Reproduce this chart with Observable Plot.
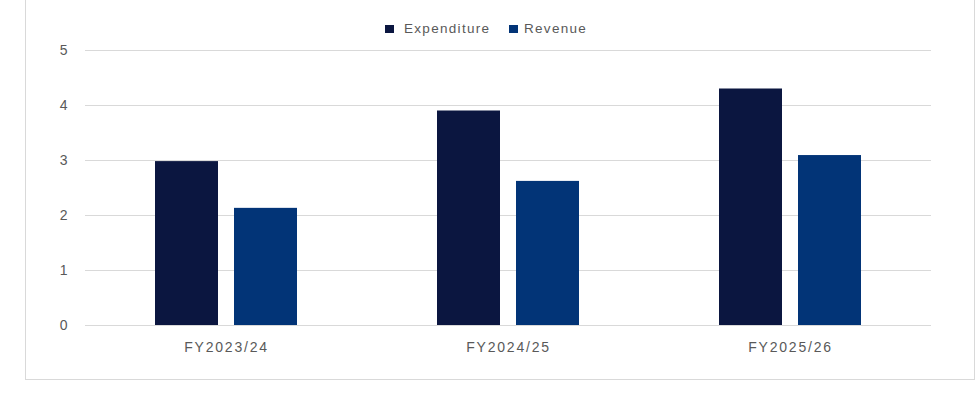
<!DOCTYPE html>
<html>
<head>
<meta charset="utf-8">
<script src="https://cdn.jsdelivr.net/npm/d3@7"></script>
<script src="https://cdn.jsdelivr.net/npm/@observablehq/plot@0.6"></script>
<style>
  html, body { margin: 0; padding: 0; background: #fff; }
  #wrap { position: relative; width: 979px; height: 393px; overflow: hidden; font-family: "Liberation Sans", Arial, sans-serif; }
  #border { position: absolute; left: 25px; top: -2px; width: 950px; height: 382px; border: 1px solid #d9d9d9; box-sizing: border-box; }
  #legend { position: absolute; top: 20px; left: 0; width: 979px; height: 20px; font-size: 13.5px; color: #595959; letter-spacing: 1.3px; }
  .item { position: absolute; top: 0; line-height: 18px; }
  .sw { position: absolute; top: 5px; width: 9px; height: 8px; }
  #chart { position: absolute; left: 0; top: 40px; }
  #chart g[aria-label="fx-axis tick label"] text { letter-spacing: 1.8px; }
</style>
</head>
<body>
<div id="wrap">
  <div id="border"></div>
  <div id="legend"></div>
  <div id="chart"></div>
</div>
<script>
const years = ["FY2023/24", "FY2024/25", "FY2025/26"];
const seriesNames = ["Expenditure", "Revenue"];
const expenditure = [2.98, 3.9, 4.3];
const revenue = [2.13, 2.62, 3.09];
const yTicks = [0, 1, 2, 3, 4, 5];
const colors = ["#0b1640", "#023477"];

const data = [];
years.forEach((yr, i) => {
  data.push({year: yr, series: seriesNames[0], value: expenditure[i]});
  data.push({year: yr, series: seriesNames[1], value: revenue[i]});
});

// legend
const legend = document.getElementById("legend");
const legendPos = [{sw: 385, tx: 404}, {sw: 509, tx: 524}];
seriesNames.forEach((s, i) => {
  const sw = document.createElement("div");
  sw.className = "sw";
  sw.style.left = legendPos[i].sw + "px";
  sw.style.background = colors[i];
  legend.appendChild(sw);
  const t = document.createElement("div");
  t.className = "item";
  t.style.left = legendPos[i].tx + "px";
  t.textContent = s;
  legend.appendChild(t);
});

const chart = Plot.plot({
  width: 979,
  height: 320,
  marginTop: 10,
  marginBottom: 35,
  marginLeft: 85,
  marginRight: 48,
  style: {fontFamily: "'Liberation Sans', Arial, sans-serif", fontSize: "14px", color: "#595959", background: "transparent"},
  fx: {domain: years, padding: 0, label: null},
  x: {domain: seriesNames, paddingInner: 0.2, paddingOuter: 0.8625, axis: null},
  y: {domain: [0, 5], label: null},
  color: {domain: seriesNames, range: colors},
  marks: [
    Plot.ruleY(yTicks, {stroke: "#d9d9d9", strokeWidth: 1}),
    Plot.barY(data, {fx: "year", x: "series", y: "value", fill: "series"}),
    Plot.axisY({ticks: yTicks, tickSize: 0, tickPadding: 18, tickFormat: d3.format("d"), fill: "#595959", fontSize: 14}),
    Plot.axisFx({anchor: "bottom", tickSize: 0, tickPadding: 17, fill: "#595959", fontSize: 14, label: null})
  ]
});
document.getElementById("chart").appendChild(chart);
</script>
</body>
</html>
